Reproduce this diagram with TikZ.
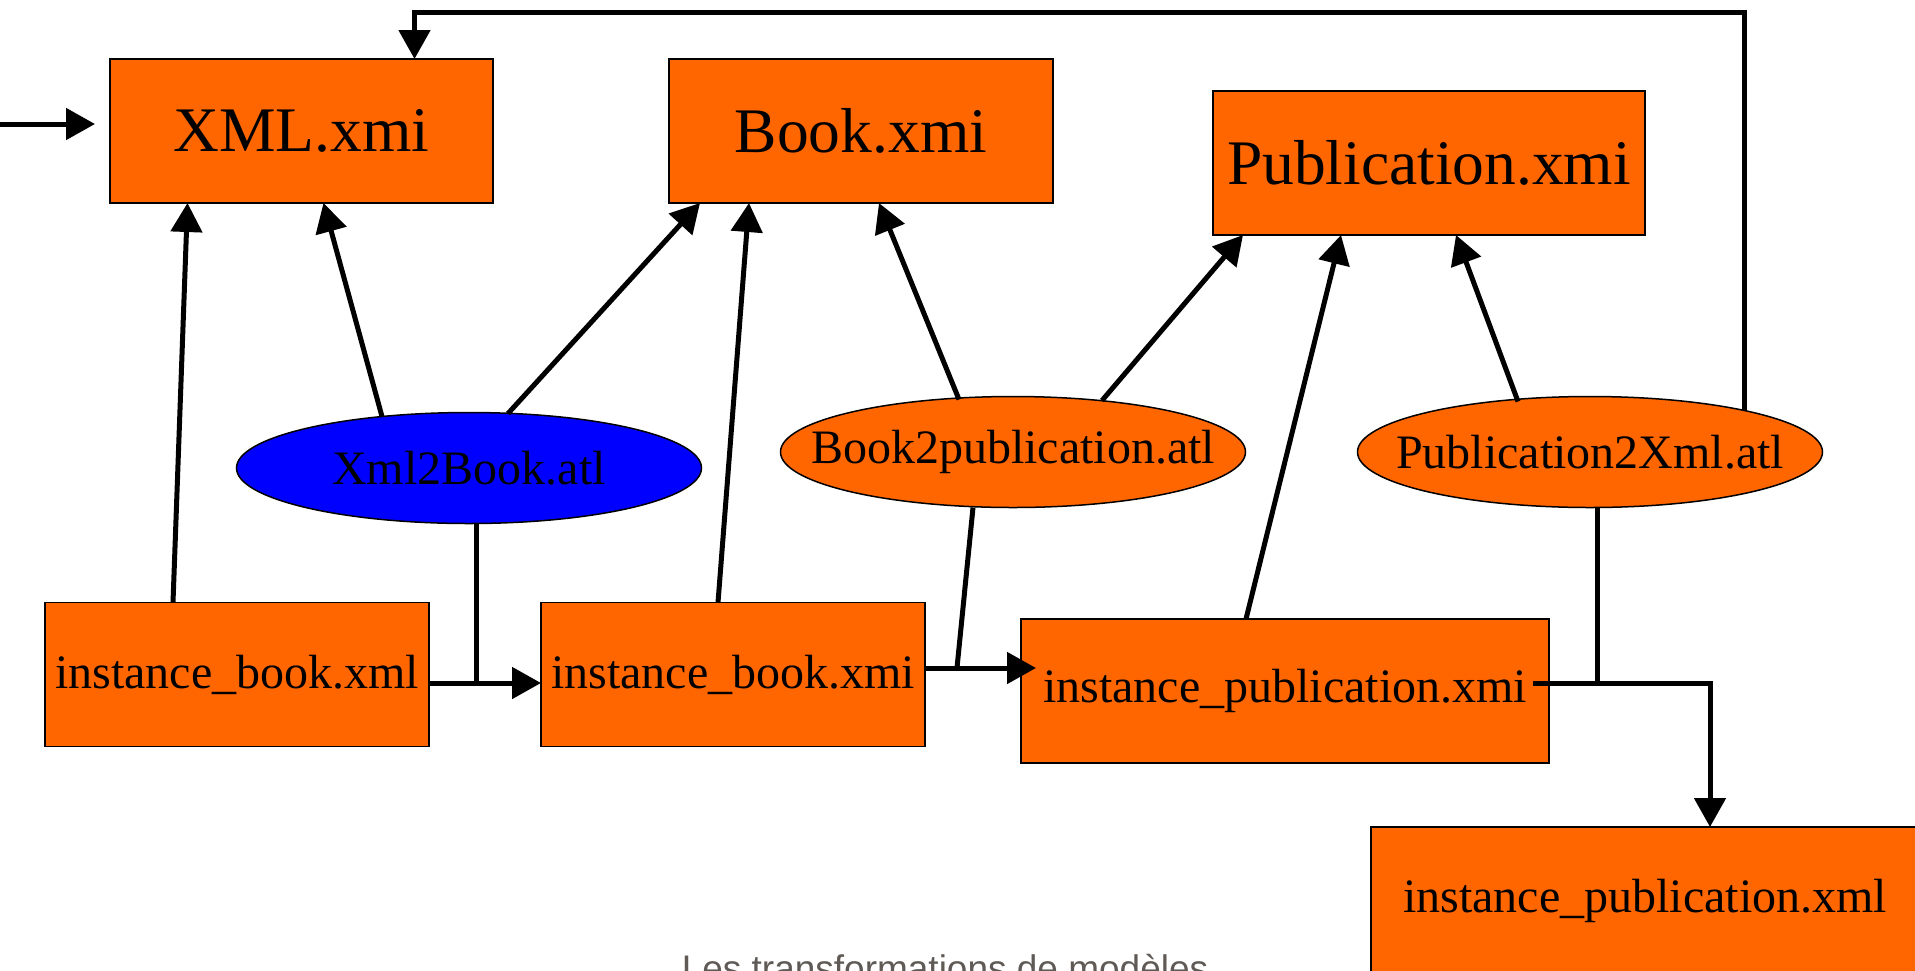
\documentclass[tikz,border=0pt]{standalone}
\usepackage{fontspec}
\setmainfont{Liberation Serif}
\newfontfamily\footfont{Liberation Sans}
\usetikzlibrary{arrows.meta,shapes.geometric}
\definecolor{modelorange}{RGB}{255,102,0}
\definecolor{footgray}{RGB}{95,90,85}
\newcommand{\bigtxt}{\fontsize{63.5pt}{70pt}\selectfont}
\newcommand{\smalltxt}{\fontsize{48pt}{54pt}\selectfont}

\begin{document}
\begin{tikzpicture}[>={Triangle[length=29pt,width=31pt]}, x=1pt, y=-1pt,
  box/.style={draw, line width=1.5pt, fill=modelorange, inner sep=0pt,
    outer sep=0pt, minimum height=144pt},
  atl/.style={ellipse, draw, line width=1.5pt, fill=modelorange, inner sep=0pt,
    outer sep=0pt, minimum width=465pt, minimum height=111pt, font=\smalltxt},
  link/.style={line width=5pt}]
  \useasboundingbox (0,0) rectangle (1915,970);
  % metamodels
  \foreach \id/\x/\y/\w/\name in {xml/301.5/131/383/XML.xmi,
      book/861/131/384/Book.xmi, pub/1429/163/432/Publication.xmi} {
    \node[box, minimum width=\w pt, font=\bigtxt] (\id) at (\x,\y) {\name};
  }
  % models
  \foreach \id/\x/\y/\w/\name in {ibxml/237/674.5/384/instance\_book.xml,
      ibxmi/733/674.5/384/instance\_book.xmi,
      ipxmi/1285/691/528/instance\_publication.xmi} {
    \node[box, minimum width=\w pt, font=\smalltxt] (\id) at (\x,\y) {\name};
  }
  \node[box, minimum width=548pt, minimum height=148pt, font=\smalltxt] (ipxml)
    at (1645,901) {instance\_publication.xml};
  % transformations
  \foreach \id/\x/\y/\col/\name in {x2b/469/468/blue/Xml2Book.atl,
      b2p/1013/452/modelorange/Book2publication.atl,
      p2x/1590/452/modelorange/Publication2Xml.atl} {
    \node[atl, fill=\col] (\id) at (\x,\y) {\makebox[0pt]{\name}};
  }

  \coordinate (in) at (0,124);
  \coordinate (j1) at (476,683);
  \coordinate (j2) at (957,668);
  \coordinate (j3) at (1597,683);
  \coordinate (back) at (1000,12);

  \draw[link, ->, shorten >=15pt] (in) -- (in -| xml.west);
  \draw[link, ->] ([xshift=-64pt]ibxml.north) -- ([xshift=-114pt]xml.south);
  \draw[link, ->] ([xshift=-87pt, yshift=-4pt]x2b.north) -- ([xshift=22pt]xml.south);
  \draw[link, ->] ([xshift=39pt, yshift=-1pt]x2b.north) -- ([xshift=-161pt]book.south);
  \draw[link, ->] ([xshift=-15pt]ibxmi.north) -- ([xshift=-112pt]book.south);
  \draw[link, ->] ([xshift=-54pt, yshift=-3pt]b2p.north) -- ([xshift=18pt]book.south);
  \draw[link, ->] ([xshift=89pt, yshift=-4pt]b2p.north) -- ([xshift=-186pt]pub.south);
  \draw[link, ->] ([xshift=-39pt]ipxmi.north) -- ([xshift=-88pt]pub.south);
  \draw[link, ->] ([xshift=-72pt, yshift=-5pt]p2x.north) -- ([xshift=27pt]pub.south);

  \draw[link] (j1 |- x2b.south) -- (j1);
  \draw[link, ->] (ibxml.east |- j1) -- (ibxmi.west |- j1);
  \draw[link] ([xshift=-40pt]b2p.south) -- (j2);
  \draw[link, ->, shorten >=-15pt] (ibxmi.east |- j2) -- (ipxmi.west |- j2);
  \draw[link] (j3 |- p2x.south) -- (j3);
  \draw[link, ->, shorten <=-16pt] (ipxmi.east |- j3) -| ([xshift=65pt]ipxml.north);
  \draw[link, ->] (p2x.15) |- (back) -| ([xshift=113pt]xml.north);

  \node[font=\footfont\fontsize{37pt}{40pt}\selectfont, text=footgray, anchor=base]
    (foot) at (945,981) {Les transformations de modèles};
\end{tikzpicture}
\end{document}
